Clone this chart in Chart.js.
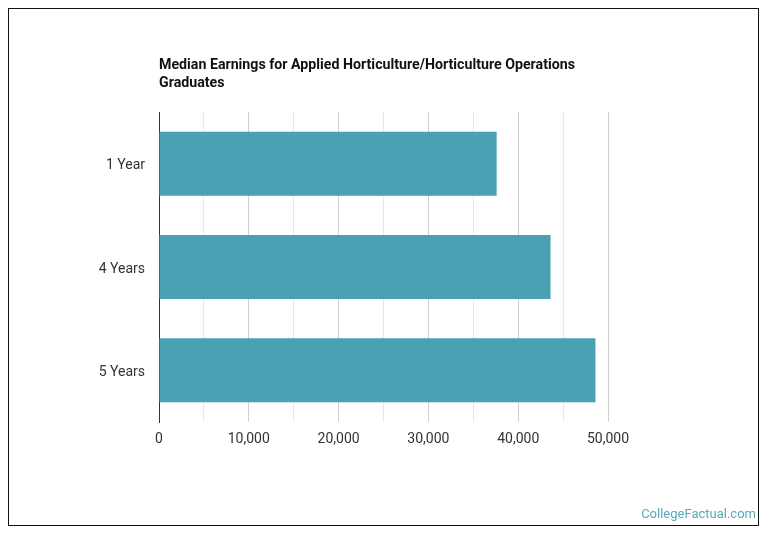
<!DOCTYPE html>
<html>
<head>
<meta charset="utf-8">
<script src="https://cdn.jsdelivr.net/npm/chart.js@4/dist/chart.umd.min.js"></script>
<style>
  html, body { margin: 0; padding: 0; background: #fff; }
  #wrap { position: relative; width: 770px; height: 536px; overflow: hidden; }
  #frame { position: absolute; left: 8px; top: 8px; width: 749px; height: 516px; border: 1px solid #111; box-sizing: content-box; }
  #title { position: absolute; left: 159px; top: 55px; font: bold 14.2px Roboto, sans-serif; line-height: 18px; color: #111; width: 470px; }
  #credit { position: absolute; right: 14px; top: 506px; font: 13px Roboto, sans-serif; color: #55a9b8; }
  #c { position: absolute; left: 0; top: 0; }
</style>
</head>
<body>
<div id="wrap">
  <div id="frame"></div>
  <canvas id="c" width="770" height="536"></canvas>
  <div id="title">Median Earnings for Applied Horticulture/Horticulture Operations Graduates</div>
  <div id="credit">CollegeFactual.com</div>
</div>
<script>
const categories = ["1 Year", "4 Years", "5 Years"];
const earnings = [37600, 43600, 48600];
const xTickValues = [0, 10000, 20000, 30000, 40000, 50000];

const ctx = document.getElementById('c');
new Chart(ctx, {
  type: 'bar',
  data: {
    labels: categories,
    datasets: [{
      data: earnings,
      backgroundColor: '#4aa1b3',
      borderWidth: 0,
      barPercentage: 0.62,
      categoryPercentage: 1.0
    }]
  },
  options: {
    indexAxis: 'y',
    responsive: false,
    animation: false,
    devicePixelRatio: 1,
    layout: { padding: { top: 112, right: 162, bottom: 0, left: 0 } },
    plugins: { legend: { display: false }, tooltip: { enabled: false }, title: { display: false } },
    scales: {
      x: {
        min: 0, max: 50000,
        ticks: {
          stepSize: 5000,
          color: '#333',
          font: { family: 'Roboto', size: 14 },
          padding: 9,
          maxRotation: 0,
          autoSkip: false,
          callback: function(v) { return xTickValues.includes(v) ? v.toLocaleString('en-US') : ''; }
        },
        grid: {
          drawTicks: false,
          color: function(c) {
            const v = c.tick ? c.tick.value : 0;
            if (v === 0) return '#333';
            return (v % 10000 === 0) ? '#cfcfcf' : '#e8e8e8';
          },
          lineWidth: 1
        },
        border: { display: false },
        afterFit: function(s) { s.height = 114; }
      },
      y: {
        ticks: { color: '#333', font: { family: 'Roboto', size: 14 }, padding: 14, labelOffset: 2 },
        grid: { display: false, drawTicks: false },
        border: { display: true, color: '#333', width: 1 },
        afterFit: function(s) { s.width = 159; }
      }
    }
  }
});
</script>
</body>
</html>
